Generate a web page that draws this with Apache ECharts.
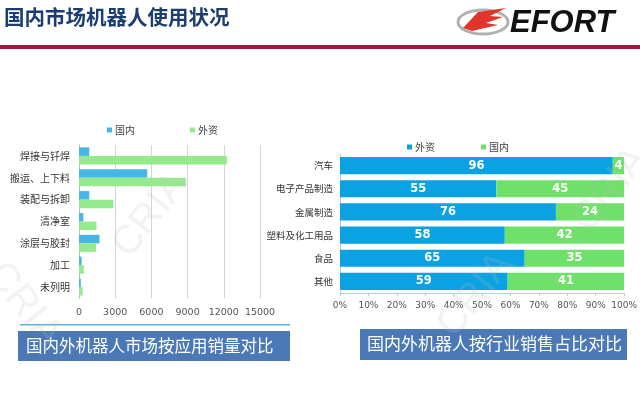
<!DOCTYPE html>
<html>
<head>
  <meta charset="utf-8">
  <script src="https://cdn.jsdelivr.net/npm/echarts@6/dist/echarts.min.js"></script>
  <style>
    html, body { margin: 0; padding: 0; background: #fff; }
    #main { width: 640px; height: 397px; }
  </style>
</head>
<body>
<div id="main"></div>
<script>
  // left chart: sales by application
  var appCats = ['焊接与钎焊', '搬运、上下料', '装配与拆卸', '清净室', '涂层与胶封', '加工', '未列明'];
  var appDomestic = [850, 5650, 850, 360, 1700, 220, 150];
  var appForeign = [12250, 8850, 2850, 1450, 1400, 400, 300];

  // right chart: share by industry (%)
  var indCats = ['汽车', '电子产品制造', '金属制造', '塑料及化工用品', '食品', '其他'];
  var indForeign = [96, 55, 76, 58, 65, 59];
  var indDomestic = [4, 45, 24, 42, 35, 41];

  var FONT = '"Noto Sans CJK SC", "Noto Sans", sans-serif';
  var chart = echarts.init(document.getElementById('main'));

  function wm(x, y, rot, txt) {
    return {
      type: 'text', x: x, y: y, rotation: rot, z: 100, silent: true,
      style: { text: txt, fontSize: 40, fontFamily: 'Liberation Sans', fill: 'rgba(190,190,190,0.2)' }
    };
  }

  chart.setOption({
    animation: false,
    textStyle: { fontFamily: FONT },
    legend: [
      {
        left: 102, top: 120, itemWidth: 5, itemHeight: 5, itemGap: 55, icon: 'rect',
        data: ['L国内', 'L外资'],
        formatter: function (n) { return n.slice(1); },
        textStyle: { fontSize: 10, color: '#444', padding: [0, 0, 0, -2] }
      },
      {
        left: 402, top: 137, itemWidth: 5, itemHeight: 5, itemGap: 46, icon: 'rect',
        data: ['R外资', 'R国内'],
        formatter: function (n) { return n.slice(1); },
        textStyle: { fontSize: 10, color: '#444', padding: [0, 0, 0, -2] }
      }
    ],
    grid: [
      { left: 79, right: 380, top: 145, bottom: 99 },
      { left: 340, right: 9, top: 154, bottom: 104 }
    ],
    xAxis: [
      {
        gridIndex: 0, type: 'value', min: 0, max: 15000, interval: 3000,
        axisLine: { show: false }, axisTick: { show: false },
        splitLine: { lineStyle: { color: '#d4d4d4' } },
        axisLabel: { fontSize: 9.5, color: '#555', margin: 10, fontFamily: 'DejaVu Sans',
          formatter: function (v) { return String(v); } }
      },
      {
        gridIndex: 1, type: 'value', min: 0, max: 100, interval: 10,
        axisLine: { show: true, lineStyle: { color: '#c8c8c8' } },
        axisTick: { show: true, length: 3, lineStyle: { color: '#c8c8c8' } },
        splitLine: { show: false },
        axisLabel: { fontSize: 9, color: '#555', margin: 8, fontFamily: 'DejaVu Sans',
          formatter: '{value}%' }
      }
    ],
    yAxis: [
      {
        gridIndex: 0, type: 'category', data: appCats, inverse: true,
        axisLine: { lineStyle: { color: '#bdbdbd' } }, axisTick: { show: false },
        axisLabel: { fontSize: 10, color: '#333', margin: 9 }
      },
      {
        gridIndex: 1, type: 'category', data: indCats, inverse: true,
        axisLine: { lineStyle: { color: '#c8c8c8' } }, axisTick: { show: false },
        axisLabel: { fontSize: 9.5, color: '#333', margin: 7 }
      }
    ],
    series: [
      {
        name: 'L国内', type: 'bar', xAxisIndex: 0, yAxisIndex: 0, data: appDomestic,
        barGap: '0%', barCategoryGap: '22%', itemStyle: { color: '#45b6e6' }
      },
      {
        name: 'L外资', type: 'bar', xAxisIndex: 0, yAxisIndex: 0, data: appForeign,
        itemStyle: { color: '#96ea8e' }
      },
      {
        name: 'R外资', type: 'bar', xAxisIndex: 1, yAxisIndex: 1, stack: 'ind', data: indForeign,
        barCategoryGap: '26%', itemStyle: { color: '#0aa2e2' },
        label: { show: true, position: 'inside', color: '#fff', fontWeight: 'bold', fontSize: 11.5, fontFamily: 'DejaVu Sans' }
      },
      {
        name: 'R国内', type: 'bar', xAxisIndex: 1, yAxisIndex: 1, stack: 'ind', data: indDomestic,
        itemStyle: { color: '#6fe06a' },
        label: { show: true, position: 'inside', color: '#fff', fontWeight: 'bold', fontSize: 11.5, fontFamily: 'DejaVu Sans' }
      }
    ],
    graphic: [
      // header
      {
        type: 'text', left: 4, top: 7,
        style: { text: '国内市场机器人使用状况', fontSize: 20.5, fontWeight: 'bold', fontFamily: FONT, fill: '#1d3d70' }
      },
      { type: 'rect', shape: { x: 0, y: 45, width: 640, height: 4 }, style: { fill: '#9a1a3a' } },
      // logo
      { type: 'ellipse', shape: { cx: 483, cy: 22, rx: 25, ry: 12 }, style: { fill: 'none', stroke: '#b0b0b0', lineWidth: 3 } },
      {
        type: 'polygon',
        shape: { points: [[463, 28], [478, 12], [506, 8], [490, 16], [503, 17], [486, 23], [498, 25], [472, 31]] },
        style: { fill: '#e0352a' }
      },
      {
        type: 'text', left: 510, top: 8,
        style: { text: 'EFORT', fontSize: 31, fontWeight: 'bold', fontStyle: 'italic', fontFamily: 'Liberation Sans', fill: '#111' }
      },
      // left underline
      { type: 'rect', shape: { x: 20, y: 324, width: 270, height: 1.5 }, style: { fill: '#5ab2e0' } },
      // caption boxes
      { type: 'rect', shape: { x: 18, y: 331, width: 272, height: 30 }, style: { fill: '#4b79b7' } },
      {
        type: 'text', x: 26, y: 346,
        style: { text: '国内外机器人市场按应用销量对比', fontSize: 16.5, fontFamily: FONT, fill: '#fff', verticalAlign: 'middle' }
      },
      { type: 'rect', shape: { x: 360, y: 329, width: 267, height: 31 }, style: { fill: '#4b79b7' } },
      {
        type: 'text', x: 367, y: 344,
        style: { text: '国内外机器人按行业销售占比对比', fontSize: 17, fontFamily: FONT, fill: '#fff', verticalAlign: 'middle' }
      },
      // watermark
      wm(105, 240, 0.9, 'CRIA'),
      wm(430, 320, 0.9, 'CRIA'),
      wm(565, 215, 0.9, 'CRIA'),
      wm(10, 255, -0.9, 'CRIA')
    ]
  });
</script>
</body>
</html>
